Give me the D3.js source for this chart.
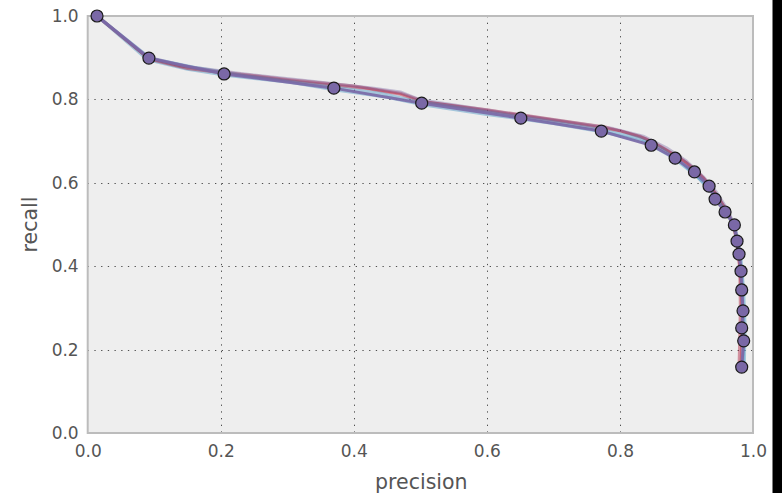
<!DOCTYPE html>
<html>
<head>
<meta charset="utf-8">
<script src="https://cdn.jsdelivr.net/npm/d3@7"></script>
<style>
  html, body { margin: 0; padding: 0; background: #fff; }
  svg { display: block; }
  text { font-family: "DejaVu Sans", sans-serif; fill: #555555; }
</style>
</head>
<body>
<svg id="chart" width="782" height="493"></svg>
<script>
// Tick values on both axes
const xTicks = [0.0, 0.2, 0.4, 0.6, 0.8, 1.0];
const yTicks = [0.0, 0.2, 0.4, 0.6, 0.8, 1.0];

// Precision / recall pairs of the marked curve
const markedPrecision = [0.014, 0.092, 0.205, 0.370, 0.502, 0.651, 0.772, 0.847, 0.883, 0.912, 0.934,
                         0.943, 0.958, 0.972, 0.976, 0.979, 0.982, 0.983, 0.985, 0.983, 0.986, 0.983];
const markedRecall    = [1.000, 0.899, 0.861, 0.827, 0.791, 0.755, 0.724, 0.690, 0.659, 0.626, 0.592,
                         0.561, 0.530, 0.499, 0.460, 0.429, 0.388, 0.343, 0.293, 0.252, 0.221, 0.158];

// Resampled curves drawn underneath (precision, recall)
const redRunA = [[0.014,1.0],[0.09,0.900],[0.14,0.880],[0.20,0.866],[0.30,0.848],[0.40,0.832],[0.47,0.815],
                 [0.51,0.793],[0.60,0.775],[0.70,0.752],[0.78,0.733],[0.83,0.712],[0.86,0.688],[0.89,0.660],
                 [0.915,0.630],[0.935,0.595],[0.95,0.560],[0.965,0.520],[0.975,0.47],[0.98,0.40],[0.981,0.30],
                 [0.980,0.22],[0.979,0.158]];
const redRunB = [[0.014,1.0],[0.092,0.897],[0.15,0.874],[0.22,0.860],[0.32,0.842],[0.42,0.826],[0.47,0.812],
                 [0.50,0.796],[0.62,0.768],[0.72,0.745],[0.80,0.725],[0.84,0.705],[0.87,0.678],[0.90,0.648],
                 [0.925,0.612],[0.945,0.572],[0.96,0.535],[0.972,0.49],[0.978,0.43],[0.982,0.36],[0.984,0.28],
                 [0.983,0.20],[0.982,0.158]];
const blueRunA = [[0.014,1.0],[0.09,0.895],[0.15,0.872],[0.21,0.857],[0.30,0.842],[0.37,0.823],[0.45,0.805],
                  [0.50,0.788],[0.60,0.764],[0.70,0.742],[0.78,0.720],[0.84,0.696],[0.88,0.660],[0.91,0.623],
                  [0.935,0.588],[0.95,0.552],[0.965,0.52],[0.975,0.48],[0.982,0.42],[0.986,0.34],[0.988,0.26],
                  [0.987,0.158]];
const blueRunB = [[0.014,1.0],[0.094,0.899],[0.16,0.877],[0.24,0.856],[0.34,0.836],[0.44,0.815],[0.49,0.797],
                  [0.58,0.775],[0.68,0.751],[0.77,0.728],[0.83,0.707],[0.865,0.680],[0.895,0.645],[0.92,0.608],
                  [0.94,0.574],[0.955,0.54],[0.97,0.50],[0.978,0.45],[0.983,0.38],[0.985,0.30],[0.986,0.22],
                  [0.985,0.158]];
const purpleRun = [[0.014,1.0],[0.091,0.901],[0.15,0.879],[0.23,0.862],[0.33,0.845],[0.43,0.827],[0.47,0.818],
                   [0.50,0.799],[0.61,0.772],[0.71,0.749],[0.79,0.730],[0.835,0.712],[0.87,0.684],[0.90,0.652],
                   [0.925,0.615],[0.945,0.578],[0.96,0.54],[0.972,0.50],[0.979,0.45],[0.983,0.37],[0.985,0.27],
                   [0.984,0.158]];

const svg = d3.select("#chart");
const plotLeft = 87.7, plotRight = 753, plotTop = 16, plotBottom = 433;

const x = d3.scaleLinear().domain([0, 1]).range([plotLeft, plotRight]);
const y = d3.scaleLinear().domain([0, 1]).range([plotBottom, plotTop]);

// image edge strip
svg.append("rect").attr("x", 772.5).attr("y", 0).attr("width", 10).attr("height", 493).attr("fill", "#000");

// plot background
svg.append("rect")
  .attr("x", plotLeft).attr("y", plotTop)
  .attr("width", plotRight - plotLeft).attr("height", plotBottom - plotTop)
  .attr("fill", "#eeeeee");

// dotted grid
const grid = svg.append("g").attr("stroke", "#333").attr("stroke-width", 1)
  .attr("stroke-dasharray", "1.3,5.4").attr("opacity", 0.85);
grid.selectAll("line.v").data(xTicks.filter(t => t > 0 && t < 1)).join("line")
  .attr("x1", d => Math.round(x(d)) + 0.5).attr("x2", d => Math.round(x(d)) + 0.5)
  .attr("y1", plotTop).attr("y2", plotBottom);
grid.selectAll("line.h").data(yTicks.filter(t => t > 0 && t < 1)).join("line")
  .attr("x1", plotLeft).attr("x2", plotRight)
  .attr("y1", d => Math.round(y(d)) + 0.5).attr("y2", d => Math.round(y(d)) + 0.5);

// frame
svg.append("rect")
  .attr("x", plotLeft).attr("y", plotTop)
  .attr("width", plotRight - plotLeft).attr("height", plotBottom - plotTop)
  .attr("fill", "none").attr("stroke", "#bcbcbc").attr("stroke-width", 2);

// axes (labels only, no tick marks)
const xAxis = d3.axisBottom(x).tickValues(xTicks).tickFormat(d3.format(".1f")).tickSize(0).tickPadding(12);
const yAxis = d3.axisLeft(y).tickValues(yTicks).tickFormat(d3.format(".1f")).tickSize(0).tickPadding(9);
const gx = svg.append("g").attr("transform", `translate(0,${plotBottom})`).call(xAxis);
const gy = svg.append("g").attr("transform", `translate(${plotLeft},0)`).call(yAxis);
[gx, gy].forEach(g => {
  g.select(".domain").remove();
  g.selectAll("text").style("font-size", "17px").attr("fill", "#555555").style("font-family", "DejaVu Sans, sans-serif");
});

// axis titles
svg.append("text").attr("x", (plotLeft + plotRight) / 2 + 1).attr("y", 488.5)
  .attr("text-anchor", "middle").style("font-size", "20.5px").text("precision");
svg.append("text").attr("transform", `translate(36.5,${(plotTop + plotBottom) / 2}) rotate(-90)`)
  .attr("text-anchor", "middle").style("font-size", "20.5px").text("recall");

// curves
const line = d3.line().x(d => x(d[0])).y(d => y(d[1]));
const curves = svg.append("g").attr("fill", "none").attr("stroke-linejoin", "round").attr("stroke-linecap", "round");
const under = [
  [redRunA, "#A60628"], [blueRunA, "#348ABD"], [redRunB, "#A60628"],
  [blueRunB, "#348ABD"], [purpleRun, "#7A68A6"]
];
under.forEach(([pts, c]) => {
  curves.append("path").attr("d", line(pts)).attr("stroke", c)
    .attr("stroke-width", 3).attr("stroke-opacity", 0.4);
});

const marked = markedPrecision.map((p, i) => [p, markedRecall[i]]);
curves.append("path").attr("d", line(marked)).attr("stroke", "#7A68A6")
  .attr("stroke-width", 3).attr("stroke-opacity", 0.9);

svg.append("g").selectAll("circle").data(marked).join("circle")
  .attr("cx", d => x(d[0])).attr("cy", d => y(d[1])).attr("r", 6)
  .attr("fill", "#7A68A6").attr("stroke", "#1a1a1a").attr("stroke-width", 1.2);
</script>
</body>
</html>
